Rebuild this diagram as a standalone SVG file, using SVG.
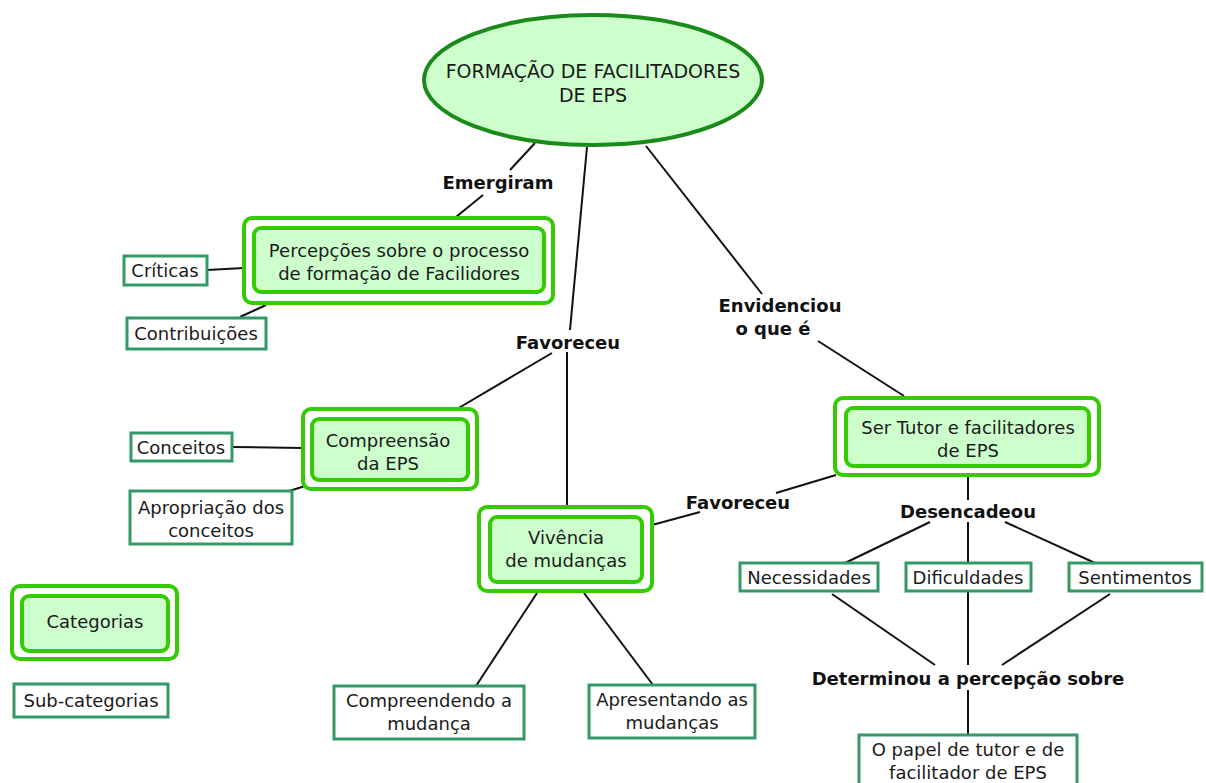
<svg xmlns="http://www.w3.org/2000/svg" width="1206" height="783" viewBox="0 0 1206 783">
<style>
text{font-family:"DejaVu Sans",Verdana,sans-serif;font-size:18px;fill:#1a1a1a;text-anchor:middle}
.lbl{font-weight:bold;fill:#111}
.ttl{font-size:19px}
.outer{fill:#fff;stroke:#33cc00;stroke-width:4}
.inner{fill:#ccffcc;stroke:#33cc00;stroke-width:4}
.sub{fill:#fff;stroke:#339966;stroke-width:3}
.c line{stroke:#111;stroke-width:2}
</style>
<rect width="1206" height="783" fill="#fff"/>
<g class="c" id="connectors">
<line x1="535" y1="143" x2="510" y2="170"/>
<line x1="483" y1="195" x2="456" y2="217"/>
<line x1="587" y1="147" x2="570" y2="330"/>
<line x1="567" y1="352" x2="567" y2="508"/>
<line x1="552" y1="353" x2="457" y2="409"/>
<line x1="646" y1="146" x2="762" y2="294"/>
<line x1="818" y1="341" x2="904" y2="396"/>
<line x1="836" y1="475" x2="776" y2="493"/>
<line x1="700" y1="512" x2="652" y2="525"/>
<line x1="207" y1="270" x2="244" y2="268"/>
<line x1="240" y1="317" x2="266" y2="305"/>
<line x1="232" y1="447" x2="303" y2="448"/>
<line x1="286" y1="492" x2="305" y2="486"/>
<line x1="537" y1="593" x2="476" y2="686"/>
<line x1="584" y1="593" x2="653" y2="685"/>
<line x1="968" y1="477" x2="968" y2="500"/>
<line x1="930" y1="522" x2="845" y2="563"/>
<line x1="968" y1="522" x2="968" y2="563"/>
<line x1="1005" y1="522" x2="1095" y2="563"/>
<line x1="832" y1="594" x2="935" y2="665"/>
<line x1="968" y1="591" x2="968" y2="665"/>
<line x1="1110" y1="594" x2="1002" y2="665"/>
<line x1="968" y1="690" x2="968" y2="735"/>
</g>
<g id="n-root">
<ellipse cx="593" cy="80" rx="169" ry="65" fill="#ccffcc" stroke="#1a8a1a" stroke-width="4"/>
<text class="ttl" x="593" y="78">FORMAÇÃO DE FACILITADORES</text>
<text class="ttl" x="593" y="102">DE EPS</text>
</g>
<g id="l-emergiram"><text class="lbl" x="498" y="189">Emergiram</text></g>
<g id="l-favoreceu1"><text class="lbl" x="568" y="349">Favoreceu</text></g>
<g id="l-envidenciou"><text class="lbl" x="780" y="312">Envidenciou</text><text class="lbl" x="773" y="335">o que é</text></g>
<g id="l-favoreceu2"><text class="lbl" x="738" y="509">Favoreceu</text></g>
<g id="l-desencadeou"><text class="lbl" x="968" y="518">Desencadeou</text></g>
<g id="l-determinou"><text class="lbl" x="968" y="685">Determinou a percepção sobre</text></g>
<g id="n-percepcoes">
<rect class="outer" x="244" y="218" width="309" height="85" rx="8"/>
<rect class="inner" x="254" y="228" width="290" height="64" rx="7"/>
<text x="399" y="257">Percepções sobre o processo</text>
<text x="399" y="280">de formação de Facilidores</text>
</g>
<g id="n-criticas"><rect class="sub" x="124" y="256" width="83" height="29"/><text x="165" y="277">Críticas</text></g>
<g id="n-contribuicoes"><rect class="sub" x="127" y="318" width="139" height="31"/><text x="196" y="340">Contribuições</text></g>
<g id="n-compreensao">
<rect class="outer" x="303" y="409" width="174" height="80" rx="8"/>
<rect class="inner" x="312" y="419" width="156" height="61" rx="7"/>
<text x="388" y="447">Compreensão</text>
<text x="388" y="470">da EPS</text>
</g>
<g id="n-conceitos"><rect class="sub" x="131" y="433" width="101" height="28"/><text x="181" y="454">Conceitos</text></g>
<g id="n-apropriacao"><rect class="sub" x="130" y="491" width="162" height="53"/><text x="211" y="514">Apropriação dos</text><text x="211" y="537">conceitos</text></g>
<g id="n-vivencia">
<rect class="outer" x="479" y="507" width="173" height="84" rx="8"/>
<rect class="inner" x="490" y="517" width="152" height="65" rx="7"/>
<text x="566" y="544">Vivência</text>
<text x="566" y="567">de mudanças</text>
</g>
<g id="n-compreendendo"><rect class="sub" x="334" y="686" width="190" height="53"/><text x="429" y="707">Compreendendo a</text><text x="429" y="730">mudança</text></g>
<g id="n-apresentando"><rect class="sub" x="589" y="685" width="166" height="53"/><text x="672" y="706">Apresentando as</text><text x="672" y="729">mudanças</text></g>
<g id="n-sertutor">
<rect class="outer" x="835" y="398" width="264" height="77" rx="8"/>
<rect class="inner" x="846" y="408" width="243" height="58" rx="7"/>
<text x="968" y="434">Ser Tutor e facilitadores</text>
<text x="968" y="457">de EPS</text>
</g>
<g id="n-necessidades"><rect class="sub" x="740" y="563" width="138" height="28"/><text x="809" y="584">Necessidades</text></g>
<g id="n-dificuldades"><rect class="sub" x="906" y="563" width="125" height="28"/><text x="968" y="584">Dificuldades</text></g>
<g id="n-sentimentos"><rect class="sub" x="1069" y="563" width="133" height="28"/><text x="1135" y="584">Sentimentos</text></g>
<g id="n-papel"><rect class="sub" x="859" y="735" width="218" height="52"/><text x="968" y="756">O papel de tutor e de</text><text x="968" y="779">facilitador de EPS</text></g>
<g id="n-categorias">
<rect class="outer" x="12" y="586" width="165" height="73" rx="8"/>
<rect class="inner" x="22" y="596" width="146" height="55" rx="7"/>
<text x="95" y="628">Categorias</text>
</g>
<g id="n-subcategorias"><rect class="sub" x="14" y="684" width="154" height="33"/><text x="91" y="707">Sub-categorias</text></g>
</svg>
